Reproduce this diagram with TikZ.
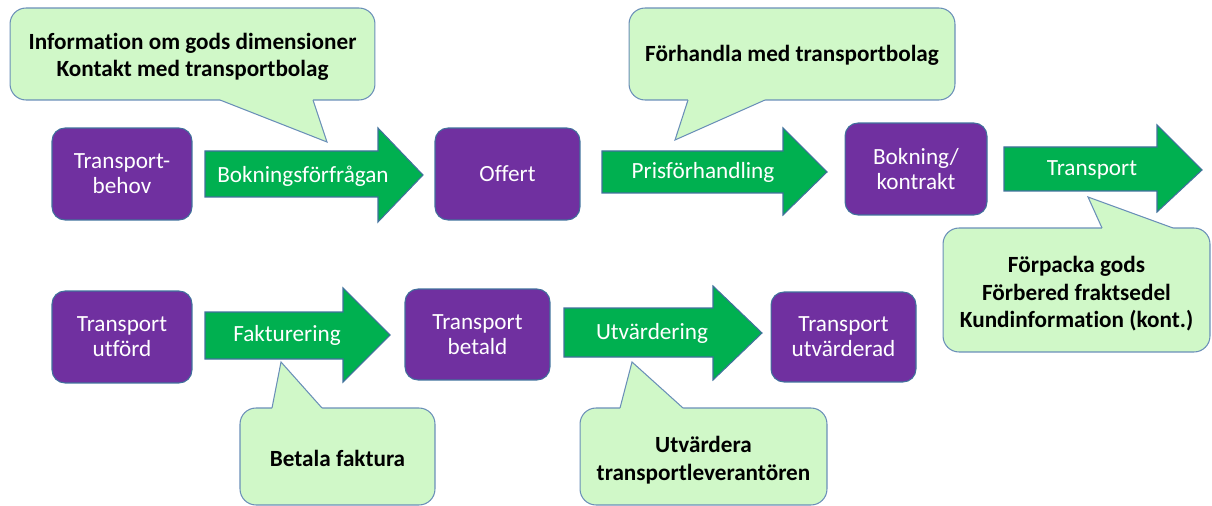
\documentclass[tikz,border=0pt]{standalone}
\usepackage{fontspec}
\setmainfont{Carlito}[Ligatures=NoCommon]
\definecolor{procfill}{HTML}{7030A0}
\definecolor{flowfill}{HTML}{00B050}
\definecolor{notefill}{HTML}{D0F8C8}
\definecolor{boxline}{HTML}{41719C}
\definecolor{noteline}{HTML}{6A8FB8}
\begin{document}
\begin{tikzpicture}[x=0.02cm,y=-0.02cm,
  proc/.style={draw=boxline, line width=0.6pt, fill=procfill, rounded corners=0.26cm,
    text=white, align=center, font=\fontsize{13.2}{14.3}\selectfont, inner sep=0pt},
  note/.style={draw=noteline, line width=0.6pt, fill=notefill, rounded corners=0.32cm,
    align=center, font=\bfseries\fontsize{13.2}{15.6}\selectfont, inner sep=0pt},
  notetext/.style={align=center, font=\bfseries\fontsize{13.2}{15.6}\selectfont, inner sep=0pt},
  flow/.style={draw=boxline, line width=0.6pt, fill=flowfill, line join=miter},
  flowtext/.style={text=white, font=\fontsize{13.2}{14.3}\selectfont, inner sep=0pt},
  leg/.style={draw=noteline, line width=0.6pt, line join=miter},
  legfill/.style={fill=notefill}
]
\useasboundingbox (0,0) rectangle (1212,506);

% --- process boxes ---
\node[proc, minimum width=2.80cm, minimum height=1.84cm] (p1) at (122,174) {Transport-\\behov};
\node[proc, minimum width=2.90cm, minimum height=1.84cm] (p2) at (507.5,174) {Offert};
\node[proc, minimum width=2.84cm, minimum height=1.84cm] (p3) at (916,169) {Bokning/\\kontrakt};
\node[proc, minimum width=2.80cm, minimum height=1.84cm] (p4) at (122,337) {Transport\\utförd};
\node[proc, minimum width=2.90cm, minimum height=1.82cm] (p5) at (477.5,334.5) {Transport\\betald};
\node[proc, minimum width=2.90cm, minimum height=1.80cm] (p6) at (843.5,337) {Transport\\utvärderad};

% --- block arrows ---
\draw[flow] (205,151) -- (378,151) -- (378,128) -- (423,175) -- (378,222) -- (378,197) -- (205,197) -- cycle;
\node[flowtext] (a1) at (303,176) {Bokningsförfrågan};
\draw[flow] (602,151) -- (783,151) -- (783,128) -- (827,172) -- (783,215) -- (783,193) -- (602,193) -- cycle;
\node[flowtext] (a2) at (703,172) {Prisförhandling};
\draw[flow] (1004,147) -- (1157,147) -- (1157,125) -- (1202,170) -- (1157,212) -- (1157,191) -- (1004,191) -- cycle;
\node[flowtext] (a3) at (1092,170) {Transport};
\draw[flow] (205,312) -- (343,312) -- (343,288) -- (390,335) -- (343,382) -- (343,359) -- (205,359) -- cycle;
\node[flowtext] (a4) at (287,335) {Fakturering};
\draw[flow] (564,308) -- (713,308) -- (713,286) -- (762,333) -- (713,380) -- (713,357) -- (564,357) -- cycle;
\node[flowtext] (a5) at (652,333) {Utvärdering};

% --- callouts: rounded box, pointer, then the text on top ---
\node[note, minimum width=7.30cm, minimum height=1.84cm] (c1) at (192.5,54) {};
\fill[legfill] (220,97) -- (220,100) -- (327,142) -- (313,100) -- (313,97) -- cycle;
\draw[leg] (220,100) -- (327,142) -- (313,100);
\node[notetext] (t1) at (192.5,57)
  {Information om gods dimensioner\\Kontakt med transportbolag};

\node[note, minimum width=6.52cm, minimum height=1.84cm] (c2) at (792,54) {};
\fill[legfill] (688,97) -- (688,100) -- (675,140) -- (765,100) -- (765,97) -- cycle;
\draw[leg] (688,100) -- (675,140) -- (765,100);
\node[notetext] (t2) at (792,55) {Förhandla med transportbolag};

\node[note, minimum width=5.34cm, minimum height=2.48cm] (c3) at (1076.5,290) {};
\fill[legfill] (1102,231) -- (1102,228) -- (1088,197) -- (1173,228) -- (1173,231) -- cycle;
\draw[leg] (1102,228) -- (1088,197) -- (1173,228);
\node[notetext] (t3) at (1076.5,294)
  {Förpacka gods\\Förbered fraktsedel\\Kundinformation (kont.)};

\node[note, minimum width=3.90cm, minimum height=1.94cm] (c4) at (337.5,456.5) {};
\fill[legfill] (272,411) -- (272,408) -- (281,362) -- (322,408) -- (322,411) -- cycle;
\draw[leg] (272,408) -- (281,362) -- (322,408);
\node[notetext] (t4) at (337.5,458) {Betala faktura};

\node[note, minimum width=4.94cm, minimum height=1.94cm] (c5) at (703.5,456.5) {};
\fill[legfill] (620,411) -- (620,408) -- (632,362) -- (683,408) -- (683,411) -- cycle;
\draw[leg] (620,408) -- (632,362) -- (683,408);
\node[notetext] (t5) at (703.5,460) {Utvärdera\\transportleverantören};
\end{tikzpicture}
\end{document}
